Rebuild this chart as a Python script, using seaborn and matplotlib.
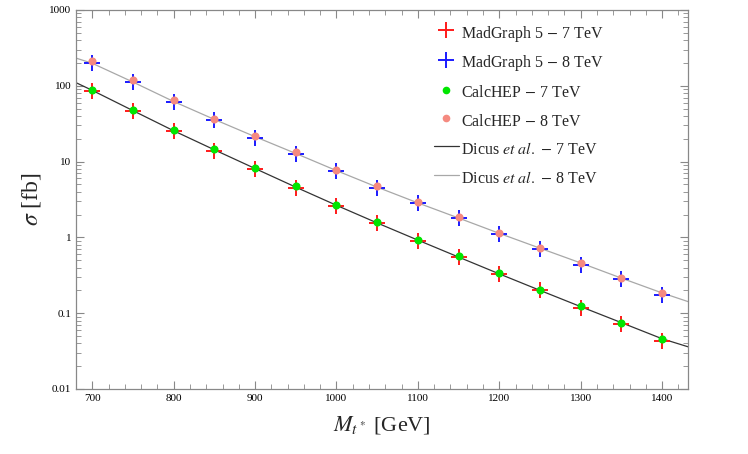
import numpy as np
import pandas as pd
import seaborn as sns
import matplotlib.pyplot as plt
from matplotlib.lines import Line2D
from matplotlib.ticker import FixedLocator, LogLocator, NullFormatter, FuncFormatter

# Mass points (GeV)
mass = [700, 750, 800, 850, 900, 950, 1000, 1050, 1100, 1150, 1200, 1250, 1300, 1350, 1400]

# MadGraph 5 cross sections (fb)
mg_7tev = [86, 46, 25, 13.8, 7.9, 4.5, 2.6, 1.55, 0.9, 0.55, 0.33, 0.2, 0.118, 0.071, 0.043]
mg_8tev = [200, 112, 61, 35, 20.5, 12.5, 7.4, 4.5, 2.8, 1.8, 1.1, 0.7, 0.43, 0.28, 0.175]

# CalcHEP cross sections (fb)
ch_7tev = [89, 48, 26, 14.5, 8.3, 4.7, 2.7, 1.6, 0.93, 0.56, 0.34, 0.205, 0.125, 0.075, 0.046]
ch_8tev = [210, 118, 64, 37, 22, 13.2, 7.7, 4.7, 2.9, 1.85, 1.15, 0.73, 0.46, 0.29, 0.185]

# Dicus et al. curves, read at the plot edges and mass points
dicus_mass = [680, 700, 750, 800, 850, 900, 950, 1000, 1050, 1100, 1150, 1200, 1250, 1300, 1350, 1400, 1432]
dicus_7tev = [110, 87, 47, 25.5, 14.3, 8.1, 4.6, 2.65, 1.55, 0.92, 0.55, 0.33, 0.2, 0.122, 0.075, 0.046, 0.036]
dicus_8tev = [232, 198, 112, 62, 36, 21.3, 12.8, 7.6, 4.6, 2.85, 1.8, 1.13, 0.72, 0.46, 0.29, 0.185, 0.142]

RED, BLUE, GREEN, PINK = '#ff1a1a', '#1a1aff', '#00e600', '#f58a80'
DARK, LIGHT = '#333333', '#a8a8a8'

sns.set_style("ticks")
plt.rcParams['font.family'] = ['Liberation Serif', 'DejaVu Serif']
plt.rcParams['mathtext.fontset'] = 'stix'

fig = plt.figure(figsize=(7.48, 4.54), dpi=100)
ax = fig.add_axes([0.1016, 0.1432, 0.8184, 0.8348])

lines = pd.DataFrame({'m': dicus_mass, '7': dicus_7tev, '8': dicus_8tev})
pts = pd.DataFrame({'m': mass, 'mg7': mg_7tev, 'mg8': mg_8tev, 'ch7': ch_7tev, 'ch8': ch_8tev})

sns.lineplot(data=lines, x='m', y='7', ax=ax, color=DARK, lw=0.9, zorder=2)
sns.lineplot(data=lines, x='m', y='8', ax=ax, color=LIGHT, lw=0.9, zorder=2)
sns.scatterplot(data=pts, x='m', y='mg7', ax=ax, color=RED, marker='+', s=125,
                linewidth=1.4, zorder=3)
sns.scatterplot(data=pts, x='m', y='mg8', ax=ax, color=BLUE, marker='+', s=125,
                linewidth=1.4, zorder=3)
sns.scatterplot(data=pts, x='m', y='ch7', ax=ax, color=GREEN, marker='o', s=34,
                linewidth=0, zorder=4)
sns.scatterplot(data=pts, x='m', y='ch8', ax=ax, color=PINK, marker='o', s=34,
                linewidth=0, zorder=4)

ax.set_yscale('log')
ax.set_xlim(680, 1432)
ax.set_ylim(0.01, 1000)

ax.xaxis.set_major_locator(FixedLocator(np.arange(700, 1401, 100)))
ax.xaxis.set_minor_locator(FixedLocator(np.arange(680, 1432, 20)))
ax.yaxis.set_major_locator(LogLocator(base=10, numticks=10))
ax.yaxis.set_minor_locator(LogLocator(base=10, subs=np.arange(2, 10), numticks=10))
ax.yaxis.set_minor_formatter(NullFormatter())
ax.yaxis.set_major_formatter(FuncFormatter(lambda v, p: f'{v:g}'))

ax.tick_params(which='both', direction='in', top=True, right=True, colors='#888888',
               labelcolor='black', labelsize=8)
ax.tick_params(which='major', length=6, width=0.8)
ax.tick_params(which='minor', length=3.5, width=0.6)
for sp in ax.spines.values():
    sp.set_color('#888888')
    sp.set_linewidth(0.9)

ax.set_xlabel(r'$M_{t^*}$ [GeV]', fontsize=16, labelpad=8)
ax.set_ylabel(r'$\sigma$ [fb]', fontsize=17, labelpad=4)

handles = [
    Line2D([], [], ls='', marker='+', color=RED, ms=11, mew=1.4),
    Line2D([], [], ls='', marker='+', color=BLUE, ms=11, mew=1.4),
    Line2D([], [], ls='', marker='o', color=GREEN, ms=5.5, mew=0),
    Line2D([], [], ls='', marker='o', color=PINK, ms=5.5, mew=0),
    Line2D([], [], color=DARK, lw=0.9),
    Line2D([], [], color=LIGHT, lw=0.9),
]
labels = [r'MadGraph 5 $-$ 7 TeV', r'MadGraph 5 $-$ 8 TeV',
          r'CalcHEP $-$ 7 TeV', r'CalcHEP $-$ 8 TeV',
          r'Dicus $\mathit{et\ al.}$ $-$ 7 TeV', r'Dicus $\mathit{et\ al.}$ $-$ 8 TeV']
ax.legend(handles, labels, loc='upper left', bbox_to_anchor=(0.561, 1.005), frameon=False,
          fontsize=11.5, handlelength=1.55, handletextpad=0.18, labelspacing=0.53,
          handleheight=1.55)

fig.savefig('out.png', dpi=100)
